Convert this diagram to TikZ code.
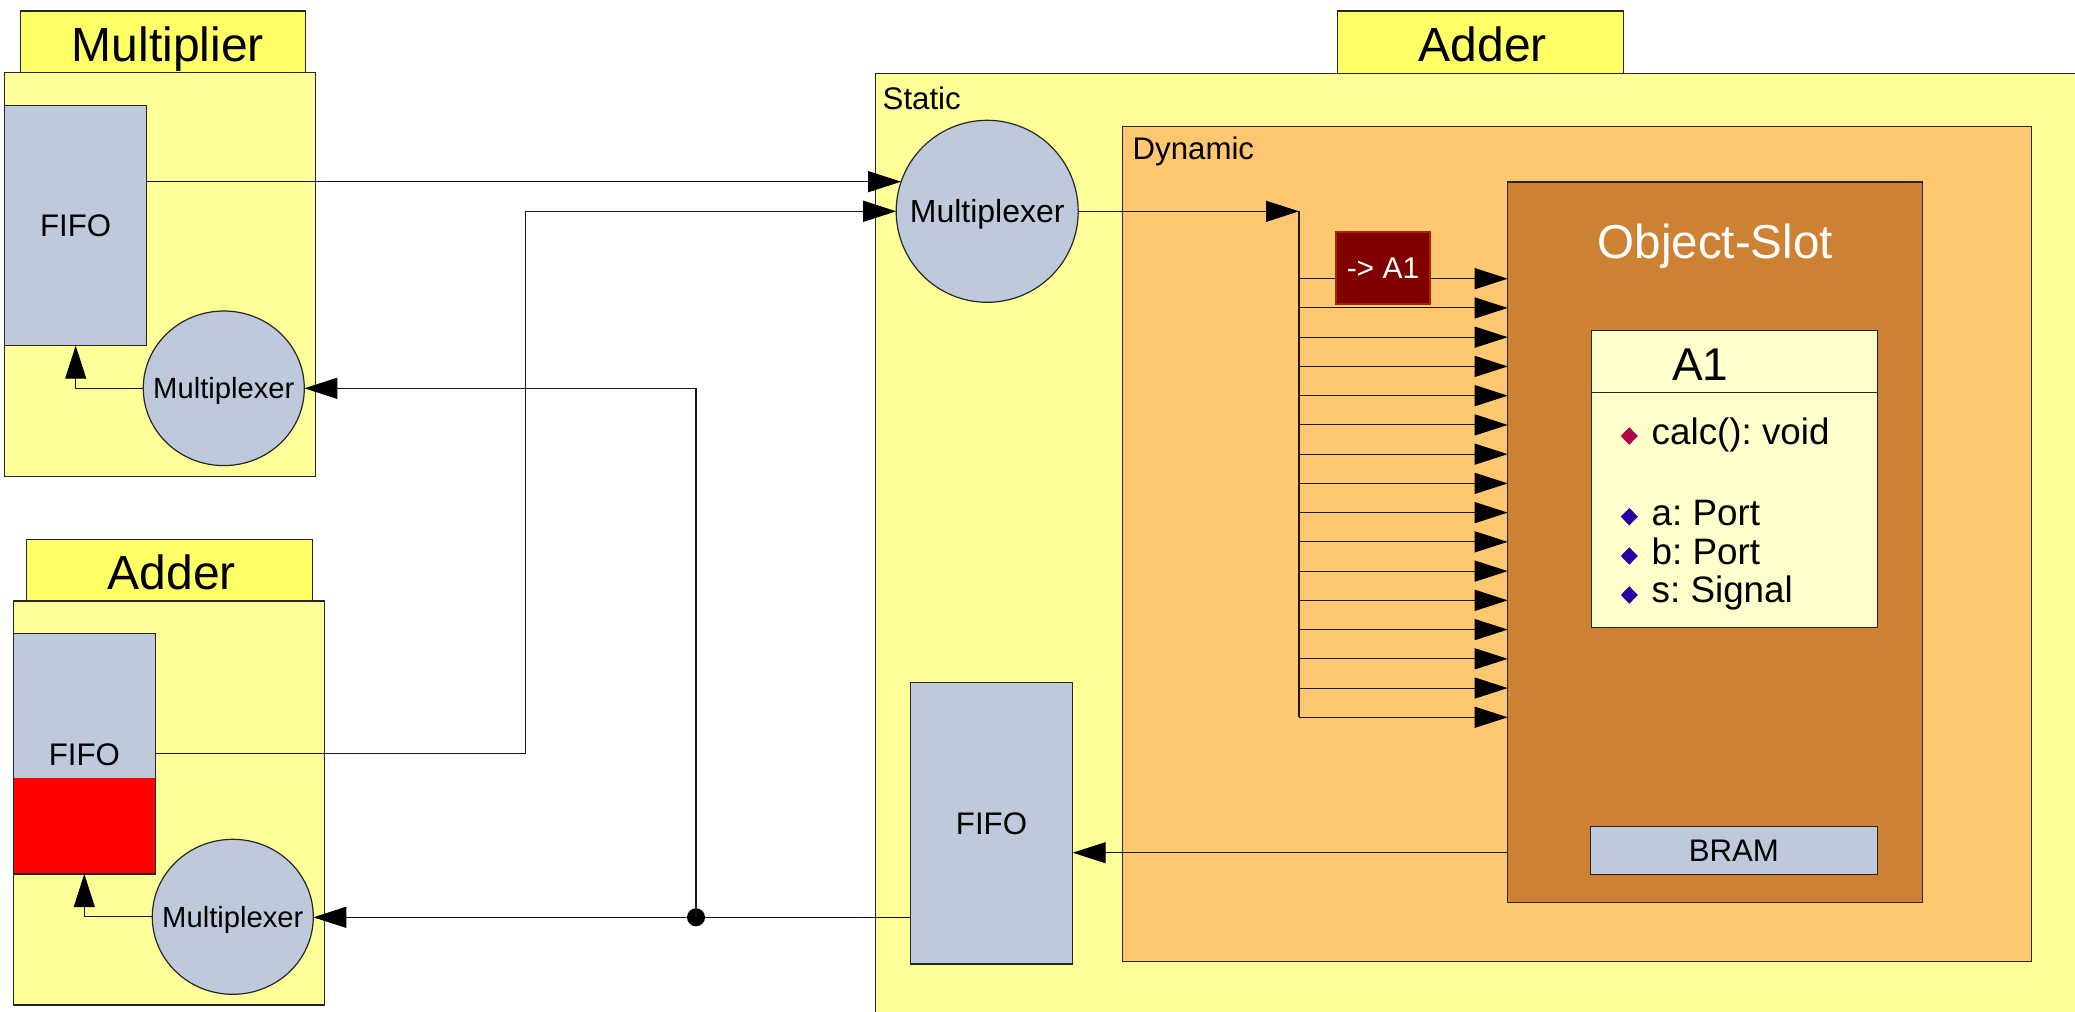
\documentclass[tikz,border=0pt]{standalone}
\usepackage{fontspec}
\setmainfont{Liberation Sans}
\usetikzlibrary{arrows.meta,fit,shapes.geometric}
\frenchspacing

\definecolor{paleyellow}{HTML}{FFFF99}
\definecolor{titleyellow}{HTML}{FFFF66}
\definecolor{steel}{HTML}{BECADB}
\definecolor{dynorange}{HTML}{FFC770}
\definecolor{slotbrown}{HTML}{CD8133}
\definecolor{classcream}{HTML}{FFFFCC}
\definecolor{deepred}{HTML}{800000}
\definecolor{opcolor}{HTML}{B2004A}
\definecolor{attrcolor}{HTML}{2A00A0}

\newcommand\fsTitle{\fontsize{24}{24}\selectfont}
\newcommand\fsBody{\fontsize{15.6}{15.6}\selectfont}
\newcommand\fsMuxBig{\fontsize{16}{16}\selectfont}
\newcommand\fsMuxSmall{\fontsize{14.6}{14.6}\selectfont}
\newcommand\fsSlot{\fontsize{23.8}{23.8}\selectfont}
\newcommand\fsClass{\fontsize{23}{23}\selectfont}
\newcommand\fsMember{\fontsize{18.4}{18.4}\selectfont}
\newcommand\fsTag{\fontsize{15}{15}\selectfont}

\tikzset{
  frame/.style={draw=black!85, line width=0.6pt, inner sep=0pt, outer sep=0pt},
  area/.style={frame, fit={#1}},
  wire/.style={draw=black!90, line width=0.55pt},
  arr/.style={wire, -{Triangle[length=16.5pt,width=10.5pt,color=black]}},
  lbl/.style={inner sep=0pt, outer sep=0pt},
  % text centred on its capital height
  captext/.style={lbl, text height=#1, text depth=0pt},
  mux/.style={frame, ellipse, fill=steel},
  marker/.style={diamond, inner sep=0pt, minimum width=8.7pt, minimum height=8.9pt},
  member/.style={lbl, anchor=base west, font=\fsMember},
}

\begin{document}
\begin{tikzpicture}[x=0.5pt,y=-0.5pt]
\useasboundingbox (0,0) rectangle (2075,1011);
\clip (0,0) rectangle (2075,1011);

% ---------------- Multiplier module ----------------
\node[area={(20.7,11) (305.7,72.7)}, fill=titleyellow] (multtitle) {};
\node[captext=17.2pt, font=\fsTitle] (multtitletxt) at ([xshift=2.3pt,yshift=-1pt]multtitle.center) {Multiplier};
\node[area={(4.7,72.7) (315.3,476.7)}, fill=paleyellow] (mult) {};
\node[area={(4.7,105.7) (146.7,345.7)}, fill=steel] (mfifo) {};
\node[captext=11.2pt, font=\fsBody] (mfifotxt) at (mfifo) {FIFO};
\node[mux, minimum width=80.5pt, minimum height=77.3pt] (mmux) at (223.8,388.3) {};
\node[captext=10.45pt, font=\fsMuxSmall] (mmuxtxt) at (mmux) {Multiplexer};

% ---------------- Adder module (left) ----------------
\node[area={(26.7,539.3) (312.3,601)}, fill=titleyellow] (addtitle) {};
\node[captext=17.2pt, font=\fsTitle] (addtitletxt) at ([xshift=1.2pt,yshift=-1pt]addtitle.center) {Adder};
\node[area={(13.3,601) (324.3,1005)}, fill=paleyellow] (adder) {};
\node[area={(13.3,633.7) (155.3,874)}, fill=steel] (afifo) {};
\fill[red] (afifo.south west) rectangle (afifo.east |- 0,777.7);
\draw[frame] (afifo.south west) rectangle (afifo.north east);
\node[captext=11.2pt, font=\fsBody] (afifotxt) at (afifo) {FIFO};
\node[mux, minimum width=80.5pt, minimum height=77.5pt] (amux) at (232.8,916.8) {};
\node[captext=10.45pt, font=\fsMuxSmall] (amuxtxt) at (amux) {Multiplexer};

% ---------------- Adder module (right): static part ----------------
\node[area={(1337.7,11) (1623.6,73.3)}, fill=titleyellow] (rtitle) {};
\node[captext=17.2pt, font=\fsTitle] (rtitletxt) at ([xshift=1pt,yshift=-1pt]rtitle.center) {Adder};
\node[area={(875.3,73.3) (2140,1060)}, fill=paleyellow] (static) {};
\node[lbl, anchor=base west, font=\fsBody] (staticlbl) at (882.7,110) {Static};

% dynamic region
\node[area={(1122.7,126.3) (2031.7,961.7)}, fill=dynorange] (dynamic) {};
\node[lbl, anchor=base west, font=\fsBody] (dynlbl) at (1132.7,159.3) {Dynamic};

% object slot with class A1 and BRAM
\node[area={(1507.7,182) (1922.7,902.7)}, fill=slotbrown] (slot) {};
\node[lbl, anchor=base, text=white, font=\fsSlot] (slotlbl) at (slot.center |- 0,258.6) {Object-Slot};

\node[area={(1591.7,330.3) (1877.3,627.3)}, fill=classcream] (a1) {};
\draw[frame] (a1.west |- 0,392.3) -- (a1.east |- 0,392.3);
\node[lbl, anchor=base west, font=\fsClass] (a1name) at (1672,380) {A1};
\node[marker, fill=opcolor] (dcalc) at (1629.3,436) {};
\node[member] (mcalc) at (1651.7,444) {calc(): void};
\node[marker, fill=attrcolor] (da) at (1629.3,516.7) {};
\node[member] (ma) at (1651.7,525) {a: Port};
\node[marker, fill=attrcolor] (db) at (1629.3,556) {};
\node[member] (mb) at (1651.7,564) {b: Port};
\node[marker, fill=attrcolor] (ds) at (1629.3,595) {};
\node[member] (ms) at (1651.7,602.7) {s: Signal};

\node[area={(1590.3,826.3) (1877.3,874.3)}, fill=steel] (bram) {};
\node[captext=11.2pt, font=\fsBody] (bramtxt) at (bram) {BRAM};

% static multiplexer and FIFO
\node[mux, circle, minimum size=91pt] (smux) at (987.2,211.3) {};
\node[captext=11.5pt, font=\fsMuxBig] (smuxtxt) at (smux) {Multiplexer};
\node[area={(910.3,682.3) (1072.7,964)}, fill=steel] (sfifo) {};
\node[captext=11.2pt, font=\fsBody] (sfifotxt) at (sfifo) {FIFO};

% ---------------- bus into the object slot ----------------
\coordinate (bustop) at (1299,211.3);
\coordinate (busend) at (1299,717.3);
\draw[wire] (bustop) -- (busend);
\foreach \i in {0,...,15} {
  \coordinate (tap\i) at (1299,{278.7+29.24*\i});
  \draw[arr] (tap\i) -- (slot.west |- tap\i);
}
\draw[arr] (smux.east) -- (bustop);
\node[area={(1336,232) (1430,304)}, fill=deepred, draw=deepred!70!orange] (toa1) {};
\node[captext=10.7pt, font=\fsTag, text=white] (toa1txt) at (toa1) {-> A1};

% ---------------- connections ----------------
% multiplier FIFO to static multiplexer
\draw[arr] (mfifo.east |- smux.161) -- (smux.161);
% adder FIFO to static multiplexer
\coordinate (abend) at (525.7,480);
\draw[arr] (afifo.east) -| (abend) |- (smux.west);
% local multiplexers feed their FIFOs
\draw[arr] (mmux.west) -| (mfifo.south);
\draw[arr] (amux.west) -| (afifo.south);
% object slot back to static FIFO
\coordinate (slotout) at (slot.west |- 0,852.7);
\draw[arr] (slotout) -- (sfifo.east |- slotout);
% static FIFO out to both local multiplexers
\coordinate (sfout) at (sfifo.west |- 0,917.3);
\draw[arr] (sfout) -- (amux.east |- sfout);
\node[circle, fill=black, inner sep=0pt, minimum size=9pt] (jn) at (696,917.3) {};
\draw[arr] (jn.center) |- (mmux.east);

\end{tikzpicture}
\end{document}
